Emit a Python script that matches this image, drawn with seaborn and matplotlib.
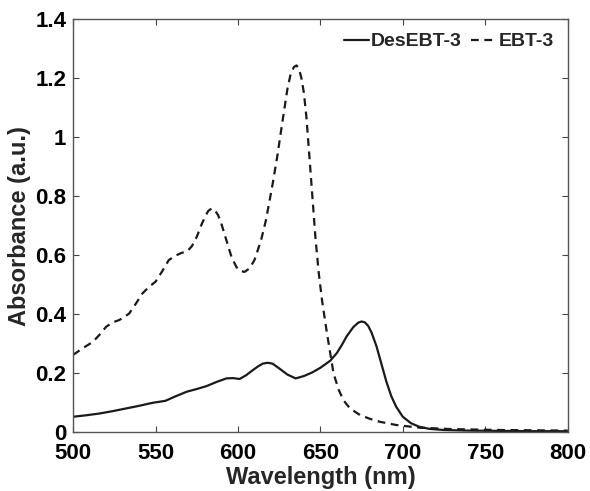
import matplotlib
matplotlib.use("Agg")
import matplotlib.pyplot as plt
import seaborn as sns
import pandas as pd
from matplotlib.ticker import FuncFormatter

# DesEBT-3 (solid)
des_wl = [500, 508, 516, 524, 532, 540, 548, 556, 562, 569, 575, 581, 587, 593, 597, 601,
          605, 609, 612, 615, 618, 621, 625, 630, 635, 640, 645, 650, 656, 660, 663, 666,
          670, 673, 675, 677, 679, 681, 684, 687, 690, 693, 696, 700, 705, 710, 716, 725,
          740, 760, 780, 800]
des_abs = [0.052, 0.057, 0.063, 0.071, 0.080, 0.089, 0.099, 0.106, 0.121, 0.137, 0.146,
           0.156, 0.170, 0.182, 0.183, 0.180, 0.193, 0.210, 0.222, 0.232, 0.235, 0.232,
           0.216, 0.195, 0.182, 0.190, 0.202, 0.218, 0.242, 0.268, 0.295, 0.325, 0.356,
           0.371, 0.375, 0.372, 0.360, 0.338, 0.292, 0.232, 0.172, 0.122, 0.086, 0.052,
           0.030, 0.018, 0.011, 0.007, 0.005, 0.004, 0.003, 0.003]

# EBT-3 (dashed)
ebt_wl = [500, 506, 512, 516, 520, 524, 528, 531, 534, 538, 542, 546, 550, 554, 558, 562,
          566, 569, 572, 575, 578, 580, 582, 584, 586, 588, 590, 593, 596, 599, 601, 604,
          607, 610, 614, 617, 621, 624, 626, 628, 630, 632, 634, 635.5, 637, 638.5, 640,
          641.5, 643, 645, 647, 649, 651, 654, 658, 661, 664, 668, 674, 680, 686, 696,
          710, 730, 760, 800]
ebt_abs = [0.262, 0.285, 0.306, 0.330, 0.357, 0.372, 0.380, 0.390, 0.402, 0.435, 0.470,
           0.492, 0.510, 0.545, 0.583, 0.598, 0.608, 0.612, 0.630, 0.662, 0.705, 0.730,
           0.750, 0.758, 0.752, 0.735, 0.705, 0.650, 0.595, 0.560, 0.547, 0.543, 0.555,
           0.583, 0.650, 0.719, 0.840, 0.940, 1.016, 1.090, 1.163, 1.215, 1.238, 1.243,
           1.232, 1.200, 1.150, 1.070, 0.960, 0.810, 0.660, 0.540, 0.447, 0.335, 0.199,
           0.145, 0.108, 0.080, 0.058, 0.045, 0.035, 0.024, 0.015, 0.010, 0.007, 0.005]

df = pd.concat([
    pd.DataFrame({"Wavelength": des_wl, "Absorbance": des_abs, "Sample": "DesEBT-3"}),
    pd.DataFrame({"Wavelength": ebt_wl, "Absorbance": ebt_abs, "Sample": "EBT-3"}),
])

sns.set_style("ticks")
plt.rcParams["font.family"] = ["Liberation Sans", "DejaVu Sans"]
plt.rcParams["font.weight"] = "bold"

fig = plt.figure(figsize=(5.90, 4.91), dpi=100)
ax = fig.add_axes([0.124, 0.12, 0.838, 0.841])

sns.lineplot(data=df, x="Wavelength", y="Absorbance", hue="Sample", style="Sample",
             palette={"DesEBT-3": "#1a1a1a", "EBT-3": "#1a1a1a"},
             dashes={"DesEBT-3": "", "EBT-3": (3.5, 2.5)},
             linewidth=1.6, ax=ax, legend=True)

ax.set_xlim(500, 800)
ax.set_ylim(0, 1.4)
ax.set_xticks([500, 550, 600, 650, 700, 750, 800])
ax.set_yticks([0, 0.2, 0.4, 0.6, 0.8, 1.0, 1.2, 1.4])
ax.yaxis.set_major_formatter(FuncFormatter(lambda v, p: f"{v:g}"))
ax.tick_params(direction="in", top=True, right=True, length=4, width=0.8,
               labelsize=16, colors="#444444", labelcolor="black")
ax.tick_params(axis="x", pad=8)
ax.tick_params(axis="y", pad=5)
for lbl in ax.get_xticklabels() + ax.get_yticklabels():
    lbl.set_fontweight("bold")
for s in ax.spines.values():
    s.set_color("#555555")
    s.set_linewidth(1.0)
    s.set_visible(True)

ax.set_xlabel("Wavelength (nm)", fontsize=17, fontweight="bold", labelpad=1)
ax.set_ylabel("Absorbance (a.u.)", fontsize=17, fontweight="bold", labelpad=3)

leg = ax.legend(loc="upper right", ncol=2, frameon=False, fontsize=14,
                handlelength=1.3, handletextpad=0.1, columnspacing=0.5,
                borderaxespad=0.3, bbox_to_anchor=(1.0, 1.0))
for t in leg.get_texts():
    t.set_fontweight("bold")

fig.savefig("out.png", dpi=100)
